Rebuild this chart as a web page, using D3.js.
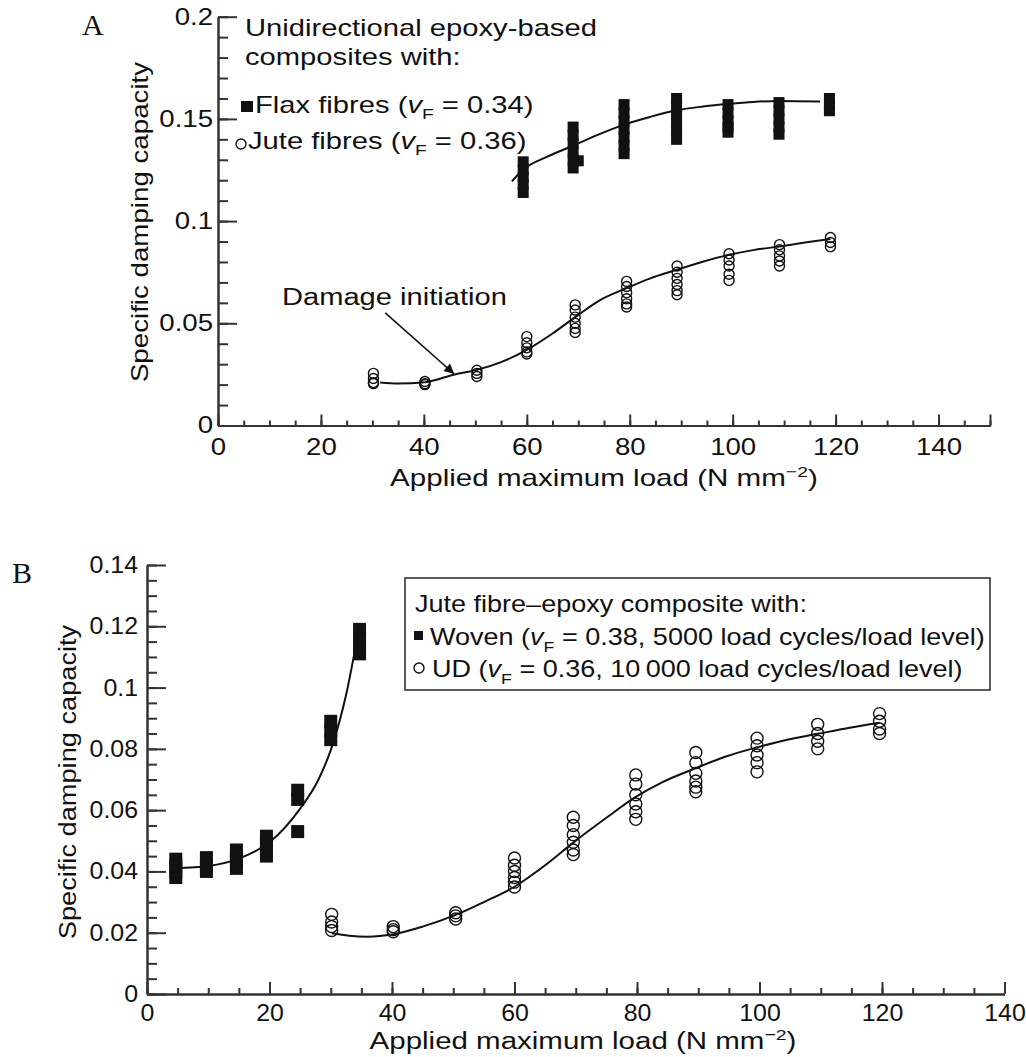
<!DOCTYPE html>
<html><head><meta charset="utf-8">
<script src="https://cdn.jsdelivr.net/npm/d3@7"></script>
<style>body{margin:0;background:#fff}svg{display:block}</style>
</head><body>
<svg id="c" width="1026" height="1057"></svg>
<script>
// ================= DATA =================
// Panel A: unidirectional epoxy composites
const flaxLoadsA = [59.3, 69.0, 78.9, 89.1, 99.1, 109.0, 118.8];
const flaxValuesA = [
  [0.129, 0.125, 0.1215, 0.118, 0.114],
  [0.146, 0.142, 0.138, 0.134, 0.130, 0.126],
  [0.157, 0.153, 0.149, 0.145, 0.141, 0.137, 0.133],
  [0.160, 0.156, 0.152, 0.148, 0.144, 0.140],
  [0.157, 0.153, 0.149, 0.146, 0.1435],
  [0.158, 0.154, 0.150, 0.146, 0.1425],
  [0.160, 0.157, 0.154]
];
const flaxExtraA = [[70.0, 0.1295]];
const juteLoadsA = [30.2, 40.2, 50.3, 60.0, 69.4, 79.4, 89.2, 99.3, 109.1, 119.0];
const juteValuesA = [
  [0.0255, 0.023, 0.021, 0.0205],
  [0.0215, 0.0205, 0.020],
  [0.027, 0.0255, 0.024],
  [0.0435, 0.0405, 0.038, 0.036, 0.035],
  [0.059, 0.0565, 0.053, 0.050, 0.0475, 0.0455],
  [0.0705, 0.068, 0.065, 0.062, 0.0595, 0.058],
  [0.078, 0.075, 0.072, 0.069, 0.066, 0.064],
  [0.084, 0.081, 0.078, 0.074, 0.071],
  [0.0885, 0.086, 0.083, 0.0805, 0.078],
  [0.092, 0.0895, 0.0875]
];
const flaxFitA = [[57.1,0.1194],[59.3,0.1252],[64,0.1315],[69.0,0.1369],[74,0.1424],[78.9,0.1472],[84,0.1510],[89.1,0.1542],[94,0.1560],[99.1,0.1573],[104,0.1583],[109.0,0.1588],[117.0,0.1585]];
const juteFitA = [[31.5,0.0210],[35,0.0205],[40.2,0.0212],[46,0.0250],[50.3,0.0272],[55,0.0310],[60,0.0370],[65,0.0450],[69.4,0.0530],[74,0.0610],[79.4,0.0672],[84,0.0720],[89.2,0.0762],[94,0.0800],[99.3,0.0835],[104,0.0858],[109.1,0.0876],[114,0.0895],[119,0.0912]];
const damageArrowA = [[32.5, 0.0551], [45.9, 0.0252]];
const xTicksA = [0, 20, 40, 60, 80, 100, 120, 140];
const yTicksA = [0, 0.05, 0.1, 0.15, 0.2];
const yTickLabelsA = ["0", "0.05", "0.1", "0.15", "0.2"];

// Panel B: jute fibre-epoxy, woven vs UD
const wovenLoadsB = [4.7, 9.7, 14.6, 19.5, 24.6, 30.0, 34.7];
const wovenValuesB = [
  [0.044, 0.042, 0.040, 0.038],
  [0.0445, 0.042, 0.040],
  [0.047, 0.045, 0.043, 0.041],
  [0.0515, 0.049, 0.047, 0.045],
  [0.0665, 0.0635, 0.053],
  [0.089, 0.086, 0.083],
  [0.119, 0.116, 0.113, 0.111]
];
const udLoadsB = [30.15, 40.2, 50.4, 60.0, 69.6, 79.8, 89.6, 99.6, 109.5, 119.6];
const udValuesB = [
  [0.026, 0.0235, 0.022, 0.0207],
  [0.022, 0.021, 0.0203],
  [0.0265, 0.0255, 0.0245],
  [0.0444, 0.042, 0.040, 0.038, 0.0365, 0.0349],
  [0.0577, 0.055, 0.052, 0.0495, 0.047, 0.0455],
  [0.0715, 0.0685, 0.065, 0.062, 0.0595, 0.057],
  [0.0788, 0.0755, 0.072, 0.0695, 0.0675, 0.066],
  [0.0835, 0.081, 0.078, 0.0755, 0.0725],
  [0.088, 0.085, 0.0825, 0.080],
  [0.0915, 0.089, 0.0865, 0.085]
];
const wovenFitB = [[4.7,0.0411],[10,0.0418],[15,0.0442],[20,0.0495],[25,0.0605],[28,0.0700],[30,0.0796],[32.6,0.0985],[34.7,0.1205]];
const udFitB = [[30.15,0.0198],[33,0.0190],[36,0.0187],[40.2,0.0195],[45,0.0220],[50.4,0.0258],[55,0.0300],[60,0.0350],[65,0.0420],[69.6,0.0494],[75,0.0575],[79.8,0.0643],[84,0.0690],[89.6,0.0737],[94.5,0.0775],[99.6,0.0805],[104.5,0.0830],[109.5,0.0849],[114.5,0.0868],[119.6,0.0885]];
const xTicksB = [0, 20, 40, 60, 80, 100, 120, 140];
const yTicksB = [0, 0.02, 0.04, 0.06, 0.08, 0.1, 0.12, 0.14];
const yTickLabelsB = ["0", "0.02", "0.04", "0.06", "0.08", "0.1", "0.12", "0.14"];

// ================= DRAWING =================
const FONT = "'Liberation Sans', Arial, Helvetica, sans-serif";
const SERIF = "'Liberation Serif', 'Times New Roman', serif";
const INK = "#111";
const AX = "#333";
const svg = d3.select("#c");

function richText(g, parts, fs, family) {
  const t = g.append("text").attr("font-family", family || FONT).attr("font-size", fs).attr("fill", INK);
  let shift = 0;
  parts.forEach(p => {
    const ts = t.append("tspan").text(p.t);
    const target = p.sub ? fs * 0.28 : p.sup ? -fs * 0.40 : 0;
    if (target !== shift) { ts.attr("dy", target - shift); shift = target; }
    if (p.sub || p.sup) ts.attr("font-size", fs * 0.66);
    if (p.it) ts.attr("font-style", "italic");
  });
  return t;
}
function label(parent, x, y, parts, fs, opt = {}) {
  const g = parent.append("g").attr("transform", `translate(${x},${y})` + (opt.rot ? ` rotate(${opt.rot})` : ""));
  const t = richText(g, typeof parts === "string" ? [{t: parts}] : parts, fs, opt.family).attr("text-anchor", opt.anchor || "start");
  let sx = opt.sx || 1;
  if (opt.width) sx = opt.width / t.node().getBBox().width;
  t.attr("transform", `scale(${sx},1)`);
  return sx;
}

function drawAxes(g, x, y, c) {
  const styleAx = s => { s.selectAll("path.domain").attr("stroke", AX).attr("stroke-width", 2);
                         s.selectAll(".tick line").attr("stroke", AX).attr("stroke-width", 2); };
  const xMinor = d3.range(x.domain()[0], x.domain()[1] + 1e-9, 5);
  const yMinor = d3.range(0, y.domain()[1] + 1e-9, c.yMinorStep);
  g.append("g").attr("transform", `translate(0,${y(0)})`)
    .call(d3.axisBottom(x).tickValues(xMinor).tickSizeInner(-c.xMinorLen).tickSizeOuter(0).tickFormat(""))
    .call(styleAx);
  g.append("g").attr("transform", `translate(${x(0)},0)`)
    .call(d3.axisLeft(y).tickValues(yMinor).tickSizeInner(-c.yMinorLen).tickSizeOuter(0).tickFormat(""))
    .call(styleAx);
  const gx = g.append("g").attr("transform", `translate(0,${y(0)})`)
    .call(d3.axisBottom(x).tickValues(c.xTicks).tickSizeInner(-c.xMajorLen).tickSizeOuter(0).tickPadding(c.xPad).tickFormat(d3.format("d")))
    .call(styleAx);
  if (c.xEndTick) {
    g.append("g").attr("transform", `translate(0,${y(0)})`)
      .call(d3.axisBottom(x).tickValues([c.xEndTick]).tickSizeInner(-c.xMajorLen).tickSizeOuter(0).tickFormat(""))
      .call(styleAx);
  }
  const gy = g.append("g").attr("transform", `translate(${x(0)},0)`)
    .call(d3.axisLeft(y).tickValues(c.yTicks).tickSizeInner(-c.yMajorLen).tickSizeOuter(0).tickPadding(c.yPad)
      .tickFormat((d, i) => c.yLabels[i]))
    .call(styleAx);
  [gx, gy].forEach(ax => {
    ax.attr("font-family", FONT).attr("font-size", c.fs);
    ax.selectAll(".tick text").attr("fill", INK).each(function () {
      const el = d3.select(this);
      const x0 = +el.attr("x") || 0;
      el.attr("x", x0 / c.tsx).attr("transform", `scale(${c.tsx},1)`);
    });
  });
}

const line = (x, y) => d3.line().x(d => x(d[0])).y(d => y(d[1])).curve(d3.curveMonotoneX);
const flatten = (loads, vals) => loads.flatMap((l, i) => vals[i].map(v => [l, v]));

// ---------- Panel A ----------
const xA = d3.scaleLinear().domain([0, 150]).range([218, 990]);
const yA = d3.scaleLinear().domain([0, 0.2]).range([425.5, 16.7]);
const gA = svg.append("g");
label(gA, 82, 35, "A", 30, {family: SERIF});

drawAxes(gA, xA, yA, {xTicks: xTicksA, yTicks: yTicksA, yLabels: yTickLabelsA, yMinorStep: 0.01,
  xMinorLen: 5, xMajorLen: 11, yMinorLen: 10, yMajorLen: 19, xPad: 13, yPad: 5, fs: 23, tsx: 1.2, xEndTick: 150});

gA.append("path").datum(flaxFitA).attr("d", line(xA, yA)).attr("fill", "none").attr("stroke", INK).attr("stroke-width", 2);
gA.append("path").datum(juteFitA).attr("d", line(xA, yA)).attr("fill", "none").attr("stroke", INK).attr("stroke-width", 2);

const sqA = 11;
gA.append("g").selectAll("rect").data(flatten(flaxLoadsA, flaxValuesA).concat(flaxExtraA)).join("rect")
  .attr("x", d => xA(d[0]) - sqA / 2).attr("y", d => yA(d[1]) - sqA / 2)
  .attr("width", sqA).attr("height", sqA).attr("fill", INK);
gA.append("g").selectAll("circle").data(flatten(juteLoadsA, juteValuesA)).join("circle")
  .attr("cx", d => xA(d[0])).attr("cy", d => yA(d[1])).attr("r", 5)
  .attr("fill", "none").attr("stroke", INK).attr("stroke-width", 1.4);

// arrow annotation
const defs = svg.append("defs");
defs.append("marker").attr("id", "ah").attr("viewBox", "0 0 10 10").attr("refX", 10).attr("refY", 5)
  .attr("markerWidth", 14).attr("markerHeight", 10).attr("markerUnits", "userSpaceOnUse").attr("orient", "auto")
  .append("path").attr("d", "M0,0 L10,5 L0,10 Z").attr("fill", INK);
gA.append("line").attr("x1", xA(damageArrowA[0][0])).attr("y1", yA(damageArrowA[0][1]))
  .attr("x2", xA(damageArrowA[1][0])).attr("y2", yA(damageArrowA[1][1]))
  .attr("stroke", INK).attr("stroke-width", 1.6).attr("marker-end", "url(#ah)");
label(gA, 282, 305, "Damage initiation", 23, {width: 225});

// legend A (no frame)
const sxA = label(gA, 245, 36, "Unidirectional epoxy-based", 23, {width: 352});
label(gA, 245, 65, "composites with:", 23, {sx: sxA});
gA.append("rect").attr("x", 241).attr("y", 101).attr("width", 12).attr("height", 11).attr("fill", INK);
label(gA, 255, 113, [{t: "Flax fibres ("}, {t: "v", it: true}, {t: "F", sub: true}, {t: " = 0.34)"}], 23, {sx: sxA});
gA.append("circle").attr("cx", 241).attr("cy", 144).attr("r", 5).attr("fill", "none").attr("stroke", INK).attr("stroke-width", 1.4);
label(gA, 248, 149, [{t: "Jute fibres ("}, {t: "v", it: true}, {t: "F", sub: true}, {t: " = 0.36)"}], 23, {sx: sxA});

// axis titles A
label(gA, 604, 486, [{t: "Applied maximum load (N mm"}, {t: "\u22122", sup: true}, {t: ")"}], 23, {anchor: "middle", width: 428});
label(gA, 148, 222, "Specific damping capacity", 23, {anchor: "middle", rot: -90, width: 321});

// ---------- Panel B ----------
const xB = d3.scaleLinear().domain([0, 140]).range([147, 1004.5]);
const yB = d3.scaleLinear().domain([0, 0.14]).range([994, 565]);
const gB = svg.append("g");
label(gB, 12, 583, "B", 30, {family: SERIF});

drawAxes(gB, xB, yB, {xTicks: xTicksB, yTicks: yTicksB, yLabels: yTickLabelsB, yMinorStep: 0.005,
  xMinorLen: 6, xMajorLen: 12, yMinorLen: 10, yMajorLen: 19, xPad: 10, yPad: 9, fs: 23.5, tsx: 1.06});

gB.append("path").datum(wovenFitB).attr("d", line(xB, yB)).attr("fill", "none").attr("stroke", INK).attr("stroke-width", 2);
gB.append("path").datum(udFitB).attr("d", line(xB, yB)).attr("fill", "none").attr("stroke", INK).attr("stroke-width", 2);

const sqB = 13;
gB.append("g").selectAll("rect").data(flatten(wovenLoadsB, wovenValuesB)).join("rect")
  .attr("x", d => xB(d[0]) - sqB / 2).attr("y", d => yB(d[1]) - sqB / 2)
  .attr("width", sqB).attr("height", sqB).attr("fill", INK);
gB.append("g").selectAll("circle").data(flatten(udLoadsB, udValuesB)).join("circle")
  .attr("cx", d => xB(d[0])).attr("cy", d => yB(d[1])).attr("r", 6)
  .attr("fill", "none").attr("stroke", INK).attr("stroke-width", 1.4);

// legend B (framed)
gB.append("rect").attr("x", 405).attr("y", 578).attr("width", 585).attr("height", 112)
  .attr("fill", "#fff").attr("stroke", AX).attr("stroke-width", 1.6);
gB.append("rect").attr("x", 414).attr("y", 631).attr("width", 9).attr("height", 9).attr("fill", INK);
const sxB = label(gB, 430, 645, [{t: "Woven ("}, {t: "v", it: true}, {t: "F", sub: true}, {t: " = 0.38, 5000 load cycles/load level)"}], 23.5, {width: 555});
label(gB, 415, 612, "Jute fibre\u2013epoxy composite with:", 23.5, {sx: sxB});
gB.append("circle").attr("cx", 419).attr("cy", 668).attr("r", 5).attr("fill", "none").attr("stroke", INK).attr("stroke-width", 1.4);
label(gB, 432, 677, [{t: "UD ("}, {t: "v", it: true}, {t: "F", sub: true}, {t: " = 0.36, 10\u2009000 load cycles/load level)"}], 23.5, {sx: sxB});

// axis titles B
label(gB, 583, 1049, [{t: "Applied maximum load (N mm"}, {t: "\u22122", sup: true}, {t: ")"}], 23.5, {anchor: "middle", width: 427});
label(gB, 76, 782, "Specific damping capacity", 23.5, {anchor: "middle", rot: -90, width: 315});
</script>
</body></html>
